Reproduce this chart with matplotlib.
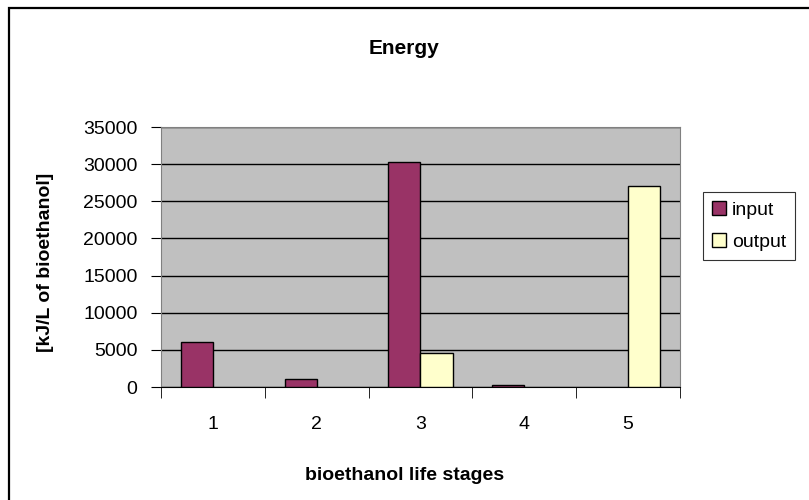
import numpy as np
import matplotlib.pyplot as plt
from matplotlib.patches import Rectangle, Patch

plt.rcParams['font.family'] = ['Liberation Sans', 'DejaVu Sans']

stages = ['1', '2', '3', '4', '5']
input_vals = [6100, 1100, 30300, 300, 0]
output_vals = [0, 0, 4600, 0, 27000]

in_color = '#993366'
out_color = '#FFFFCC'

fig = plt.figure(figsize=(8.09, 5.0), dpi=100)
ax = fig.add_axes([0.199, 0.226, 0.6415, 0.52])
ax.set_facecolor('#C0C0C0')

x = np.arange(len(stages))
w = 0.31
# zero bars get no edge so no stray line shows at the baseline
ax.bar(x - w / 2, input_vals, w, color=in_color, linewidth=1, zorder=3,
       edgecolor=['black' if v else 'none' for v in input_vals])
ax.bar(x + w / 2, output_vals, w, color=out_color, linewidth=1, zorder=3,
       edgecolor=['black' if v else 'none' for v in output_vals])

ax.set_xlim(-0.5, 4.5)
ax.set_ylim(0, 35000)
ax.set_yticks(range(0, 35001, 5000))
ax.yaxis.grid(True, color='black', linewidth=1, zorder=1)
ax.set_axisbelow(True)

ax.set_xticks(x)
ax.set_xticklabels(stages, fontsize=14)
ax.set_xticks(np.arange(-0.5, 5, 1), minor=True)
ax.tick_params(axis='x', which='major', length=0, pad=21)
ax.tick_params(axis='x', which='minor', length=8, direction='out', color='black')
ax.tick_params(axis='y', length=7, labelsize=14, color='black', pad=10)

for s in ['top', 'right', 'left']:
    ax.spines[s].set_color('#808080')
ax.spines['bottom'].set_color('black')

fig.text(0.5, 0.048, 'bioethanol life stages', ha='center', va='center', fontsize=14, fontweight='bold')
fig.text(0.056, 0.476, '[kJ/L of bioethanol]', ha='center', va='center', rotation=90,
         fontsize=14, fontweight='bold')
fig.text(0.5, 0.904, 'Energy', ha='center', va='center', fontsize=15, fontweight='bold')

handles = [Patch(facecolor=in_color, edgecolor='black', label='input'),
           Patch(facecolor=out_color, edgecolor='black', label='output')]
leg = fig.legend(handles=handles, loc='upper left', bbox_to_anchor=(0.869, 0.616), fontsize=14,
                 frameon=True, fancybox=False, edgecolor='black', handlelength=0.75,
                 handleheight=0.75, handletextpad=0.3, borderpad=0.45, labelspacing=0.75,
                 borderaxespad=0)
leg.get_frame().set_linewidth(0.8)

fig.patches.append(Rectangle((0.011, -0.1), 1.2, 1.084, transform=fig.transFigure,
                             fill=False, edgecolor='black', linewidth=1.6))

fig.savefig('out.png', dpi=100)
